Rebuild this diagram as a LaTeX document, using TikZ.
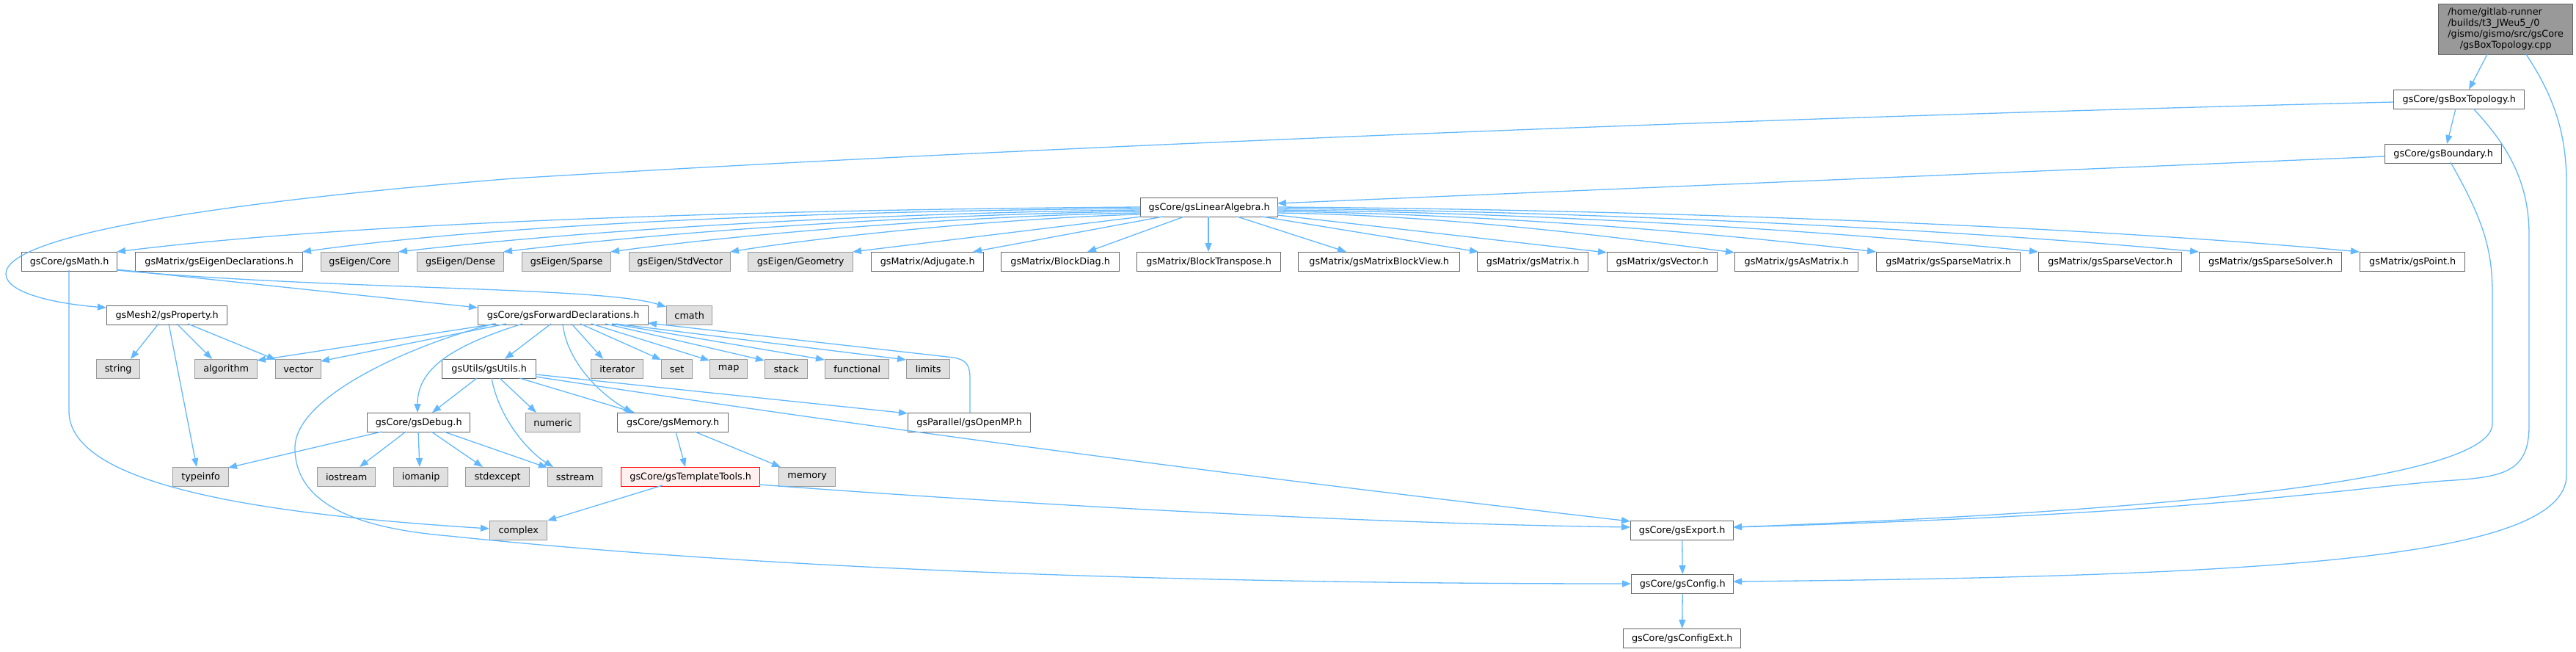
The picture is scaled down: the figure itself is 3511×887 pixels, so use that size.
\documentclass[tikz,border=0pt]{standalone}
\usepackage{fontspec}
\newfontfamily\dvs{DejaVu Sans}
\usetikzlibrary{arrows.meta,calc}
\definecolor{edgec}{HTML}{63B8FF}
\definecolor{bordc}{HTML}{666666}
\definecolor{graybord}{HTML}{999999}
\definecolor{grayfill}{HTML}{E0E0E0}
\definecolor{rootfill}{HTML}{999999}
\definecolor{redfill}{HTML}{FFF0F0}
\tikzset{
  hdr/.style={draw=bordc, fill=white, line width=1.4pt, minimum height=26pt, inner sep=0pt, anchor=north west, font=\dvs\fontsize{12.8}{15}\selectfont},
  sysbox/.style={hdr, draw=graybord, fill=grayfill},
  redbox/.style={hdr, draw=red, fill=redfill},
  rootbox/.style={hdr, draw=bordc, fill=rootfill},
  edge/.style={draw=edgec, line width=1.3pt, -{Triangle[length=12pt,width=9pt]}},
}
\begin{document}
\begin{tikzpicture}[x=1pt,y=-1pt]
\useasboundingbox (0,0) rectangle (3511,887);
% nodes
\node[rootbox, minimum width=183pt, minimum height=69pt] (root) at (3323,5) {\begin{tabular}{@{}l@{}}/home/gitlab-runner\\/builds/t3\_JWeu5\_/0\\/gismo/gismo/src/gsCore\\\multicolumn{1}{@{}c@{}}{/gsBoxTopology.cpp}\end{tabular}};
\node[hdr, minimum width=178pt] (bt) at (3262,122) {gsCore/gsBoxTopology.h};
\node[hdr, minimum width=159pt] (bd) at (3250,196) {gsCore/gsBoundary.h};
\node[hdr, minimum width=187pt] (la) at (1554,269) {gsCore/gsLinearAlgebra.h};
\node[hdr, minimum width=130pt] (math) at (29,343) {gsCore/gsMath.h};
\node[hdr, minimum width=228pt] (eigd) at (184,343) {gsMatrix/gsEigenDeclarations.h};
\node[sysbox, minimum width=106pt] (ecore) at (437,343) {gsEigen/Core};
\node[sysbox, minimum width=118pt] (edense) at (568,343) {gsEigen/Dense};
\node[sysbox, minimum width=121pt] (esparse) at (711,343) {gsEigen/Sparse};
\node[sysbox, minimum width=138pt] (estd) at (857,343) {gsEigen/StdVector};
\node[sysbox, minimum width=143pt] (egeo) at (1019,343) {gsEigen/Geometry};
\node[hdr, minimum width=153pt] (adj) at (1187,343) {gsMatrix/Adjugate.h};
\node[hdr, minimum width=161pt] (bdiag) at (1364,343) {gsMatrix/BlockDiag.h};
\node[hdr, minimum width=196pt] (btr) at (1549,343) {gsMatrix/BlockTranspose.h};
\node[hdr, minimum width=220pt] (bview) at (1769,343) {gsMatrix/gsMatrixBlockView.h};
\node[hdr, minimum width=151pt] (mat) at (2013,343) {gsMatrix/gsMatrix.h};
\node[hdr, minimum width=150pt] (vec) at (2190,343) {gsMatrix/gsVector.h};
\node[hdr, minimum width=168pt] (asm) at (2364,343) {gsMatrix/gsAsMatrix.h};
\node[hdr, minimum width=196pt] (smat) at (2557,343) {gsMatrix/gsSparseMatrix.h};
\node[hdr, minimum width=195pt] (svec) at (2778,343) {gsMatrix/gsSparseVector.h};
\node[hdr, minimum width=194pt] (ssol) at (2997,343) {gsMatrix/gsSparseSolver.h};
\node[hdr, minimum width=143pt] (pt) at (3216,343) {gsMatrix/gsPoint.h};
\node[hdr, minimum width=164pt] (prop) at (145,416) {gsMesh2/gsProperty.h};
\node[hdr, minimum width=232pt] (fd) at (651,416) {gsCore/gsForwardDeclarations.h};
\node[sysbox, minimum width=62pt] (cmath) at (908,416) {cmath};
\node[sysbox, minimum width=59pt] (str) at (131,489) {string};
\node[sysbox, minimum width=85pt] (alg) at (265,489) {algorithm};
\node[sysbox, minimum width=62pt] (vecs) at (375,489) {vector};
\node[hdr, minimum width=128pt] (utils) at (602,489) {gsUtils/gsUtils.h};
\node[sysbox, minimum width=71pt] (iter) at (805,489) {iterator};
\node[sysbox, minimum width=42pt] (set) at (901,489) {set};
\node[sysbox, minimum width=51pt] (map) at (967,489) {map};
\node[sysbox, minimum width=58pt] (stack) at (1042,489) {stack};
\node[sysbox, minimum width=87pt] (func) at (1124,489) {functional};
\node[sysbox, minimum width=59pt] (lim) at (1235,489) {limits};
\node[hdr, minimum width=140pt] (dbg) at (500,562) {gsCore/gsDebug.h};
\node[sysbox, minimum width=74pt] (num) at (716,562) {numeric};
\node[hdr, minimum width=151pt] (mem) at (841,562) {gsCore/gsMemory.h};
\node[hdr, minimum width=167pt] (omp) at (1237,562) {gsParallel/gsOpenMP.h};
\node[sysbox, minimum width=76pt] (tinfo) at (235,636) {typeinfo};
\node[sysbox, minimum width=79pt] (ios) at (432,636) {iostream};
\node[sysbox, minimum width=74pt] (iom) at (536,636) {iomanip};
\node[sysbox, minimum width=87pt] (sexc) at (634,636) {stdexcept};
\node[sysbox, minimum width=74pt] (sstr) at (746,636) {sstream};
\node[redbox, minimum width=189pt] (tt) at (846,636) {gsCore/gsTemplateTools.h};
\node[sysbox, minimum width=77pt] (memory) at (1061,636) {memory};
\node[sysbox, minimum width=78pt] (cplx) at (667,709) {complex};
\node[hdr, minimum width=140pt] (exp) at (2222,709) {gsCore/gsExport.h};
\node[hdr, minimum width=139pt] (cfg) at (2223,782) {gsCore/gsConfig.h};
\node[hdr, minimum width=160pt] (cfgx) at (2212,856) {gsCore/gsConfigExt.h};
% edges from root
\draw[edge] ($(root.north west)+(67,69)$) -- ($(bt.north west)+(103,0)$);
\draw[edge] ($(root.north west)+(120,69)$) .. controls (3480,130) and (3498,180) .. (3498,250) -- (3498,647) .. controls (3498,760) and (3100,785) .. ($(cfg.north west)+(139,10)$);
% gsBoxTopology
\draw[edge] ($(bt.north west)+(85,26)$) -- ($(bd.north west)+(85,0)$);
\draw[edge] ($(bt.north west)+(0,17)$) .. controls (2400,160) and (1400,200) .. (700,243) .. controls (300,275) and (8,320) .. (8,373) .. controls (8,400) and (80,414) .. ($(prop.north west)+(0,3)$);
\draw[edge] ($(bt.north west)+(109,26)$) .. controls (3420,200) and (3447,250) .. (3447,320) -- (3447,580) .. controls (3447,645) and (3410,650) .. (3330,655) .. controls (3200,665) and (3000,700) .. ($(exp.north west)+(140,9)$);
% gsBoundary
\draw[edge] ($(bd.north west)+(0,17)$) -- ($(la.north west)+(187,8)$);
\draw[edge] ($(bd.north west)+(90,25)$) .. controls (3385,300) and (3397,340) .. (3397,400) -- (3397,577) .. controls (3397,640) and (3100,690) .. ($(exp.north west)+(140,9)$);
% gsLinearAlgebra
\draw[edge] ($(la.north west)+(0,13)$) .. controls (1100,285) and (500,300) .. ($(math.north west)+(130,0)$);
\draw[edge] ($(la.north west)+(0,15)$) .. controls (1150,287) and (700,303) .. ($(eigd.north west)+(228,0)$);
\draw[edge] ($(la.north west)+(0,17)$) .. controls (1250,289) and (850,308) .. ($(ecore.north west)+(106,0)$);
\draw[edge] ($(la.north west)+(0,19)$) .. controls (1300,291) and (950,311) .. ($(edense.north west)+(118,0)$);
\draw[edge] ($(la.north west)+(0,21)$) .. controls (1350,293) and (1050,314) .. ($(esparse.north west)+(121,0)$);
\draw[edge] ($(la.north west)+(0,23)$) .. controls (1400,296) and (1150,318) .. ($(estd.north west)+(138,0)$);
\draw[edge] ($(la.north west)+(2,26)$) -- ($(egeo.north west)+(143,0)$);
\draw[edge] ($(la.north west)+(31,26)$) -- ($(adj.north west)+(139,0)$);
\draw[edge] ($(la.north west)+(60,26)$) -- ($(bdiag.north west)+(118,0)$);
\draw[edge] ($(la.north west)+(93,26)$) -- ($(btr.north west)+(98,0)$);
\draw[edge] ($(la.north west)+(132,26)$) -- ($(bview.north west)+(66,0)$);
\draw[edge] ($(la.north west)+(166,26)$) -- ($(mat.north west)+(2,0)$);
\draw[edge] ($(la.north west)+(187,24)$) -- ($(vec.north west)+(0,1)$);
\draw[edge] ($(la.north west)+(187,21)$) .. controls (1950,293) and (2150,316) .. ($(asm.north west)+(0,1)$);
\draw[edge] ($(la.north west)+(187,19)$) .. controls (2000,291) and (2300,313) .. ($(smat.north west)+(0,0)$);
\draw[edge] ($(la.north west)+(187,17)$) .. controls (2050,289) and (2450,310) .. ($(svec.north west)+(0,0)$);
\draw[edge] ($(la.north west)+(187,15)$) .. controls (2100,287) and (2600,307) .. ($(ssol.north west)+(0,0)$);
\draw[edge] ($(la.north west)+(187,13)$) .. controls (2200,285) and (2800,305) .. ($(pt.north west)+(0,0)$);
% gsMath
\draw[edge] ($(math.north west)+(130,24)$) -- ($(fd.north west)+(0,3)$);
\draw[edge] ($(math.north west)+(130,25)$) .. controls (450,395) and (820,390) .. ($(cmath.north west)+(0,2)$);
\draw[edge] ($(math.north west)+(65,25)$) -- (94,560) .. controls (94,660) and (350,700) .. ($(cplx.north west)+(0,11)$);
% gsProperty
\draw[edge] ($(prop.north west)+(71,25)$) -- ($(str.north west)+(47,0)$);
\draw[edge] ($(prop.north west)+(96,25)$) -- ($(alg.north west)+(24,0)$);
\draw[edge] ($(prop.north west)+(111,25)$) -- ($(vecs.north west)+(1,1)$);
\draw[edge] ($(prop.north west)+(85,25)$) -- ($(tinfo.north west)+(33,0)$);
% gsForwardDeclarations
\draw[edge] ($(fd.north west)+(25,25)$) -- ($(alg.north west)+(85,2)$);
\draw[edge] ($(fd.north west)+(39,25)$) -- ($(vecs.north west)+(62,3)$);
\draw[edge] ($(fd.north west)+(61,25)$) .. controls (620,470) and (569,500) .. ($(dbg.north west)+(69,0)$);
\draw[edge] ($(fd.north west)+(22,25)$) .. controls (560,470) and (402,540) .. (402,610) .. controls (402,700) and (520,722) .. (612,730) .. controls (900,760) and (1400,795) .. ($(cfg.north west)+(0,13)$);
\draw[edge] ($(fd.north west)+(100,25)$) -- ($(utils.north west)+(86,0)$);
\draw[edge] ($(fd.north west)+(116,25)$) .. controls (772,490) and (815,535) .. ($(mem.north west)+(21,0)$);
\draw[edge] ($(fd.north west)+(128,25)$) -- ($(iter.north west)+(17,0)$);
\draw[edge] ($(fd.north west)+(140,25)$) -- ($(set.north west)+(0,1)$);
\draw[edge] ($(fd.north west)+(155,25)$) -- ($(map.north west)+(0,2)$);
\draw[edge] ($(fd.north west)+(174,25)$) -- ($(stack.north west)+(0,2)$);
\draw[edge] ($(fd.north west)+(183,25)$) -- ($(func.north west)+(0,1)$);
\draw[edge] ($(fd.north west)+(188,25)$) -- ($(lim.north west)+(0,1)$);
\draw[edge] ($(omp.north west)+(85,0)$) -- (1322,515) .. controls (1322,495) and (1315,490) .. (1300,487) -- ($(fd.north west)+(232,24)$);
% gsUtils
\draw[edge] ($(utils.north west)+(48,26)$) -- ($(dbg.north west)+(89,0)$);
\draw[edge] ($(utils.north west)+(68,26)$) .. controls (680,570) and (720,615) .. ($(sstr.north west)+(8,0)$);
\draw[edge] ($(utils.north west)+(79,26)$) -- ($(num.north west)+(15,0)$);
\draw[edge] ($(utils.north west)+(106,26)$) -- ($(mem.north west)+(24,0)$);
\draw[edge] ($(utils.north west)+(128,21)$) -- ($(omp.north west)+(0,1)$);
\draw[edge] ($(utils.north west)+(128,24)$) .. controls (1200,585) and (1700,650) .. ($(exp.north west)+(0,1)$);
% gsDebug
\draw[edge] ($(dbg.north west)+(20,26)$) -- ($(tinfo.north west)+(76,1)$);
\draw[edge] ($(dbg.north west)+(53,26)$) -- ($(ios.north west)+(58,0)$);
\draw[edge] ($(dbg.north west)+(70,26)$) -- ($(iom.north west)+(36,0)$);
\draw[edge] ($(dbg.north west)+(88,26)$) -- ($(sexc.north west)+(24,0)$);
\draw[edge] ($(dbg.north west)+(105,26)$) -- ($(sstr.north west)+(0,1)$);
% gsMemory
\draw[edge] ($(mem.north west)+(80,26)$) -- ($(tt.north west)+(88,0)$);
\draw[edge] ($(mem.north west)+(106,26)$) -- ($(memory.north west)+(3,0)$);
% gsTemplateTools
\draw[edge] ($(tt.north west)+(57,25)$) -- ($(cplx.north west)+(79,0)$);
\draw[edge] ($(tt.north west)+(189,24)$) .. controls (1300,680) and (1800,712) .. ($(exp.north west)+(0,9)$);
% gsExport, gsConfig
\draw[edge] (exp.south) -- (cfg.north);
\draw[edge] (cfg.south) -- (cfgx.north);
\end{tikzpicture}
\end{document}
